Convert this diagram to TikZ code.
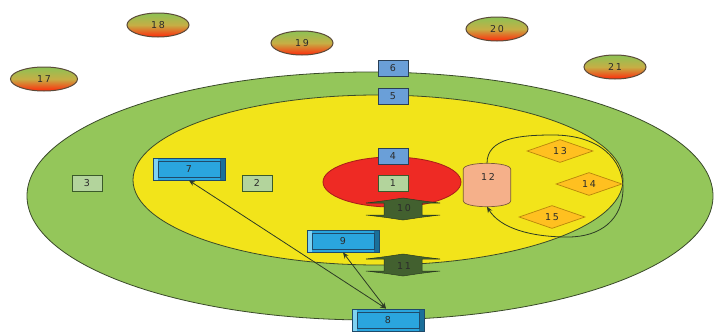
\documentclass[tikz,border=0pt]{standalone}
\usepackage{fontspec}
\setmainfont{DejaVu Sans}[LetterSpace=18]
\usetikzlibrary{shapes.geometric,arrows.meta,calc}

\definecolor{outfield}{HTML}{94C65A}
\definecolor{infield}{HTML}{F2E41A}
\definecolor{pitch}{HTML}{EE2A24}
\definecolor{zoneline}{HTML}{3A4A2A}
\definecolor{tagblue}{HTML}{6A9FD8}
\definecolor{tagedge}{HTML}{2A3F55}
\definecolor{taggreen}{HTML}{B3D49C}
\definecolor{taggreenedge}{HTML}{3B5A2A}
\definecolor{benchfill}{HTML}{2AA5DE}
\definecolor{benchlight}{HTML}{7FD2F2}
\definecolor{benchdark}{HTML}{1A6F9A}
\definecolor{benchedge}{HTML}{1F4A6A}
\definecolor{passfill}{HTML}{42602F}
\definecolor{passedge}{HTML}{2A3A20}
\definecolor{drumfill}{HTML}{F5B08A}
\definecolor{drumedge}{HTML}{7A5A3A}
\definecolor{gemfill}{HTML}{FFC020}
\definecolor{gemedge}{HTML}{B8860B}
\definecolor{balltop}{HTML}{8CC255}
\definecolor{ballmid}{HTML}{C6AE45}
\definecolor{ballbottom}{HTML}{FF2A0A}
\definecolor{balledge}{HTML}{5B4A38}
\definecolor{ink}{HTML}{2B2B2B}
\definecolor{wire}{HTML}{2D3B25}

\tikzset{
  zone/.style={draw=zoneline, line width=0.8pt},
  tagbox/.style={rectangle, minimum width=30pt, minimum height=16pt, inner sep=0pt,
    draw=tagedge, line width=0.8pt, fill=tagblue, text=ink},
  greenbox/.style={tagbox, fill=taggreen, draw=taggreenedge},
  bench/.style={rectangle, minimum width=72pt, minimum height=22pt, inner sep=0pt,
    draw=benchedge, line width=0.9pt, fill=benchfill, text=ink,
    path picture={
      \fill[benchlight] (path picture bounding box.north west) rectangle
        ($(path picture bounding box.south west)+(5,0)$);
      \fill[benchdark] ($(path picture bounding box.north east)+(-5,0)$) rectangle
        (path picture bounding box.south east);
      \draw[benchedge, line width=0.6pt]
        ($(path picture bounding box.north west)+(5,3)$) rectangle
        ($(path picture bounding box.south east)+(-5,-3)$);
    }},
  passtxt/.style={inner sep=0pt, text=ink},
  passshape/.style={fill=passfill, draw=passedge, line width=0.5pt},
  drum/.style={rectangle, minimum width=47pt, minimum height=43pt, inner sep=0pt, text=ink},
  gem/.style={diamond, aspect=2.8, minimum width=66pt, minimum height=23pt, inner sep=0pt,
    draw=gemedge, line width=0.7pt, fill=gemfill, text=ink},
  ball/.style={ellipse, minimum width=62pt, minimum height=24pt, inner sep=0pt,
    draw=balledge, line width=1pt, top color=balltop, bottom color=ballbottom,
    middle color=ballmid, text=ink},
  link/.style={draw=wire, line width=0.8pt,
    {Stealth[length=6pt,width=5pt]}-{Stealth[length=6pt,width=5pt]}},
  loopline/.style={draw=wire, line width=0.8pt, -{Stealth[length=6pt,width=5pt]}}
}

\begin{document}
\begin{tikzpicture}[x=1pt, y=-1pt, font=\fontsize{9.5}{11}\selectfont]
\useasboundingbox (0,0) rectangle (715,332);

% ground: outfield, infield, pitch
\draw[zone, fill=outfield] (370,196) ellipse [x radius=343, y radius=124];
\draw[zone, fill=infield] (378,180) ellipse [x radius=245, y radius=85];
\draw[zone, fill=pitch, draw=pitch!70!black] (392,182) ellipse [x radius=69, y radius=25];

% two-way passages
\foreach \cx/\cy in {403/209, 403/265}{
  \path[passshape] ($(\cx,\cy)+(-19,-6)$) -- ($(\cx,\cy)+(-37,-6)$)
    .. controls ($(\cx,\cy)+(-20,-8)$) .. ($(\cx,\cy)+(0,-11)$)
    .. controls ($(\cx,\cy)+(20,-8)$) .. ($(\cx,\cy)+(37,-6)$) -- ($(\cx,\cy)+(19,-6)$)
    -- ($(\cx,\cy)+(19,6)$) -- ($(\cx,\cy)+(37,6)$)
    .. controls ($(\cx,\cy)+(20,8)$) .. ($(\cx,\cy)+(0,11)$)
    .. controls ($(\cx,\cy)+(-20,8)$) .. ($(\cx,\cy)+(-37,6)$) -- ($(\cx,\cy)+(-19,6)$) -- cycle;
}
\node[passtxt] (10) at (404,208) {10};
\node[passtxt] (11) at (404,266) {11};

% markers along the axis
\node[greenbox] (1) at (393,183) {1};
\node[greenbox] (2) at (257,183) {2};
\node[greenbox] (3) at (87,183) {3};
\node[tagbox] (4) at (393,156) {4};
\node[tagbox] (5) at (393,96) {5};
\node[tagbox] (6) at (393,68) {6};

% benches
\node[bench] (7) at (189,169) {7};
\node[bench] (9) at (343,241) {9};
\node[bench] (8) at (388,320) {8};

% drum with its loop
\node[drum] (12) at (487,185) {};
\draw[fill=drumfill, draw=drumedge, line width=0.7pt]
  ($(12.north west)+(0,6)$) -- ($(12.south west)+(0,-6)$)
  .. controls ($(12.south west)+(0,2)$) and ($(12.south east)+(0,2)$) .. ($(12.south east)+(0,-6)$)
  -- ($(12.north east)+(0,6)$)
  .. controls ($(12.north east)+(0,-2)$) and ($(12.north west)+(0,-2)$) .. cycle;
\node[text=ink] at ($(12)+(1,-8)$) {12};
\draw[loopline] (12.north) .. controls (487,138) and (520,135) .. (553,135)
  .. controls (600,135) and (623,160) .. (623,188)
  .. controls (623,220) and (600,237) .. (568,237)
  .. controls (530,237) and (500,228) .. (12.south);

% diamonds
\node[gem] (13) at (560,151) {13};
\node[gem] (14) at (589,184) {14};
\node[gem] (15) at (552,217) {15};

% outer discs
\node[ball, minimum width=67pt] (17) at (44,79) {17};
\node[ball] (18) at (158,25) {18};
\node[ball] (19) at (302,43) {19};
\node[ball] (20) at (497,29) {20};
\node[ball] (21) at (615,67) {21};

% links from bench 8
\draw[link] (7.south) -- ($(8.north)+(-2,0)$);
\draw[link] (9.south) -- ($(8.north)+(-2,0)$);
\end{tikzpicture}
\end{document}
